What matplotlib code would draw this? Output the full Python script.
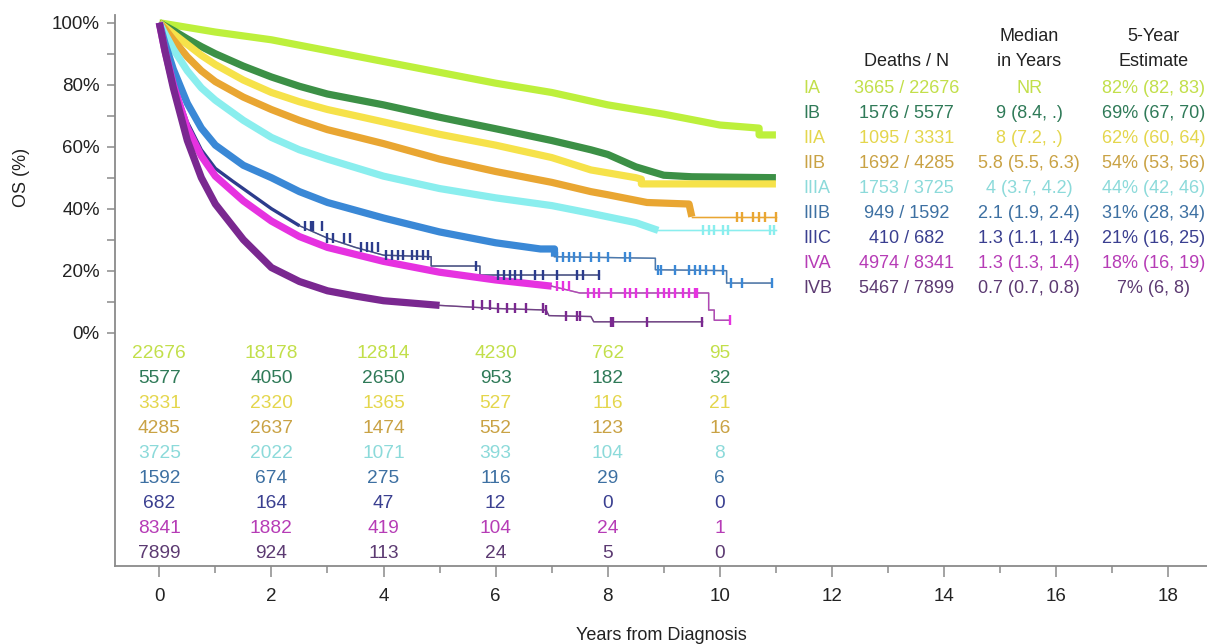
import matplotlib
matplotlib.use("Agg")
import matplotlib.pyplot as plt
import numpy as np

plt.rcParams['font.family'] = ['Liberation Sans', 'DejaVu Sans']

stages = ["IA", "IB", "IIA", "IIB", "IIIA", "IIIB", "IIIC", "IVA", "IVB"]
line_colors = ["#bdf03c", "#3c9046", "#f6e24a", "#e9a632", "#8aeeee",
               "#3a88d6", "#2c3c8c", "#e632e0", "#7a2890"]
text_colors = ["#c2df4a", "#2f7a58", "#e4d64c", "#c9a244", "#8cdada",
               "#3d70a2", "#3a3f90", "#b63cb6", "#5c3a72"]

# survival curves (years, OS %)
t_IA = [0, 0.5, 1, 2, 3, 4, 5, 6, 7, 8, 9, 10, 10.7, 10.7, 11.0]
s_IA = [100, 98.5, 97, 94.5, 91, 87.5, 84, 80.5, 77.5, 73.5, 70.5, 67, 66, 63.8, 63.8]
t_IB = [0, 0.25, 0.5, 0.75, 1, 1.5, 2, 2.5, 3, 4, 5, 6, 7, 7.7, 8, 8.5, 9, 9.5, 11.0]
s_IB = [100, 97.5, 94.8, 92.3, 90, 86, 82.5, 79.5, 77, 73.5, 69.5, 65.8, 62, 59, 57.5, 53.5, 50.8, 50.3, 50]
t_IIA = [0, 0.25, 0.5, 0.75, 1, 1.5, 2, 2.5, 3, 4, 5, 6, 7, 7.7, 8.5, 8.6, 8.6, 11.0]
s_IIA = [100, 96.5, 93, 89.5, 86.5, 81.5, 77.5, 74.5, 72, 68, 64, 60.5, 56.5, 52.5, 50, 49.5, 48, 48]
t_IIB = [0, 0.1, 0.25, 0.5, 0.75, 1, 1.5, 2, 2.5, 3, 4, 5, 6, 7, 7.7, 8, 8.7, 9.45, 9.5, 11.0]
s_IIB = [100, 98, 94.5, 89, 84.5, 81, 76, 72, 68.5, 65.5, 61, 56, 52, 48.5, 45.5, 44.5, 42, 41.5, 37.4, 37.4]
t_IIIA = [0, 0.1, 0.25, 0.5, 0.75, 1, 1.5, 2, 2.5, 3, 4, 5, 6, 7, 7.7, 8.5, 8.9, 11.0]
s_IIIA = [100, 96.5, 91.5, 84.5, 79, 75, 68.5, 63, 59, 56, 50.5, 46.5, 43.5, 41, 38.5, 35.5, 33, 33]
t_IIIB = [0, 0.1, 0.25, 0.5, 0.75, 1, 1.5, 2, 2.5, 3, 4, 5, 6, 6.8, 7.05, 7.05, 8.85, 8.85, 10.12, 10.12, 10.93]
s_IIIB = [100, 93.5, 85, 74, 66, 60.5, 54, 50, 45.5, 42, 37, 32.5, 29, 27, 27, 24.5, 24, 20.3, 20, 16, 16]
t_IIIC = [0, 0.1, 0.25, 0.5, 0.75, 1, 1.3, 2, 2.5, 3, 3.5, 4, 4.85, 4.85, 5.72, 5.72, 7.85]
s_IIIC = [100, 92, 81, 68, 59, 53, 49, 40, 34.5, 30.5, 27.5, 25, 24.5, 21.5, 21.5, 18.6, 18.6]
t_IVA = [0, 0.1, 0.25, 0.5, 0.75, 1, 1.5, 2, 2.5, 3, 4, 5, 6, 7, 7.5, 9.8, 9.8, 9.9, 9.9, 10.18]
s_IVA = [100, 91, 80, 66, 57, 50.5, 42.5, 36, 31, 27.5, 23, 19.5, 17, 15, 12.8, 12.8, 7.3, 7.3, 4, 4]
t_IVB = [0, 0.1, 0.25, 0.5, 0.75, 1, 1.5, 2, 2.5, 3, 3.5, 4, 5, 6, 6.9, 6.95, 7.7, 7.75, 9.69]
s_IVB = [100, 91, 79, 62, 50, 41.5, 30, 21, 16.5, 13.5, 11.8, 10.3, 8.8, 7.8, 7.3, 5.5, 5.2, 3.5, 3.5]

# censor marks on the sparse tails (years)
cens_IIB = [10.3, 10.4, 10.6, 10.7, 10.8, 11.0]
cens_IIIA = [9.7, 9.8, 9.9, 10.05, 10.15, 10.9, 10.97]
cens_IIIB = [7.1, 7.2, 7.3, 7.4, 7.5, 7.7, 7.85, 8.0, 8.3, 8.4, 8.9, 8.95, 9.2,
             9.45, 9.55, 9.65, 9.75, 9.9, 10.05, 10.2, 10.4, 10.93]
cens_IIIC = [2.6, 2.7, 2.75, 2.9, 3.0, 3.1, 3.3, 3.4, 3.6, 3.7, 3.8, 3.9, 4.05,
             4.15, 4.25, 4.35, 4.5, 4.6, 4.7, 4.8, 5.65, 6.05, 6.15, 6.25,
             6.35, 6.45, 6.7, 6.85, 7.1, 7.45, 7.55, 7.85]
cens_IVA = [7.1, 7.2, 7.3, 7.65, 7.75, 7.85, 8.05, 8.3, 8.4, 8.5, 8.7, 8.9, 9.0,
            9.1, 9.2, 9.35, 9.45, 9.55, 9.6, 10.18]
cens_IVB = [5.6, 5.75, 5.9, 6.05, 6.2, 6.35, 6.55, 6.85, 6.9,
            7.25, 7.45, 7.5, 8.05, 8.1, 8.7, 9.68]

curves = {
    "IA": (t_IA, s_IA, 11.0, []),
    "IB": (t_IB, s_IB, 11.0, []),
    "IIA": (t_IIA, s_IIA, 11.0, []),
    "IIB": (t_IIB, s_IIB, 10.2, cens_IIB),
    "IIIA": (t_IIIA, s_IIIA, 9.7, cens_IIIA),
    "IIIB": (t_IIIB, s_IIIB, 7.05, cens_IIIB),
    "IIIC": (t_IIIC, s_IIIC, 2.5, cens_IIIC),
    "IVA": (t_IVA, s_IVA, 7.0, cens_IVA),
    "IVB": (t_IVB, s_IVB, 5.5, cens_IVB),
}

# numbers at risk
risk_times = [0, 2, 4, 6, 8, 10]
at_risk = [
    [22676, 18178, 12814, 4230, 762, 95],
    [5577, 4050, 2650, 953, 182, 32],
    [3331, 2320, 1365, 527, 116, 21],
    [4285, 2637, 1474, 552, 123, 16],
    [3725, 2022, 1071, 393, 104, 8],
    [1592, 674, 275, 116, 29, 6],
    [682, 164, 47, 12, 0, 0],
    [8341, 1882, 419, 104, 24, 1],
    [7899, 924, 113, 24, 5, 0],
]

deaths_n = ["3665 / 22676", "1576 / 5577", "1095 / 3331", "1692 / 4285",
            "1753 / 3725", "949 / 1592", "410 / 682", "4974 / 8341", "5467 / 7899"]
medians = ["NR", "9 (8.4, .)", "8 (7.2, .)", "5.8 (5.5, 6.3)", "4 (3.7, 4.2)",
           "2.1 (1.9, 2.4)", "1.3 (1.1, 1.4)", "1.3 (1.3, 1.4)", "0.7 (0.7, 0.8)"]
five_year = ["82% (82, 83)", "69% (67, 70)", "62% (60, 64)", "54% (53, 56)",
             "44% (42, 46)", "31% (28, 34)", "21% (16, 25)", "18% (16, 19)", "7% (6, 8)"]

fig = plt.figure(figsize=(12.07, 6.44), dpi=100)
ax = fig.add_axes([115 / 1207, 1 - 566 / 644, (1207 - 115) / 1207, (566 - 15) / 644])
ax.set_xlim(-0.79, 18.69)
ax.set_ylim(-75.3, 102.5)

draw_order = ["IIIC", "IA", "IB", "IIA", "IIB", "IIIA", "IIIB", "IVA", "IVB"]
for name in draw_order:
    i = stages.index(name)
    t, s, thick_end, cens = curves[name]
    t = np.array(t, dtype=float)
    s = np.array(s, dtype=float)
    col = line_colors[i]
    lw_thick = 2.4 if name == "IIIC" else 5.2
    mask = t <= thick_end
    ax.plot(t[mask], s[mask], color=col, lw=lw_thick, solid_capstyle="butt",
            solid_joinstyle="round", zorder=3 + i * 0.1)
    if thick_end < t[-1]:
        k = np.searchsorted(t, thick_end, side="right") - 1
        tt = t[k:]
        ss = s[k:]
        ax.plot(tt, ss, color="#666677" if name in ("IIIB", "IIIC", "IVA", "IVB") else col,
                lw=1.0, zorder=3 + i * 0.1)
        ax.plot(tt, ss, color=col, lw=1.0, alpha=0.6, zorder=3 + i * 0.1)
    if cens:
        c = np.array(cens)
        idx = np.searchsorted(t, c, side="right") - 1
        ax.plot(c, s[idx], ls="none", marker="|", ms=7, mew=1.7, color=col,
                zorder=3.5 + i * 0.1)

for i in range(len(stages)):
    yrow = -6.6 - 8.1 * i
    for j, tm in enumerate(risk_times):
        ax.text(tm, yrow, str(at_risk[i][j]), color=text_colors[i], fontsize=13.8,
                ha="center", va="center")

# summary table on the right
head_y1, head_y2 = 95.5, 87.4
ax.text(13.33, head_y2, "Deaths / N", ha="center", va="center", fontsize=13, color="#222222")
ax.text(15.52, head_y1, "Median", ha="center", va="center", fontsize=13, color="#222222")
ax.text(15.52, head_y2, "in Years", ha="center", va="center", fontsize=13, color="#222222")
ax.text(17.74, head_y1, "5-Year", ha="center", va="center", fontsize=13, color="#222222")
ax.text(17.74, head_y2, "Estimate", ha="center", va="center", fontsize=13, color="#222222")
for i, name in enumerate(stages):
    yrow = 78.8 - 8.06 * i
    ax.text(11.49, yrow, name, ha="left", va="center", fontsize=13, color=text_colors[i])
    ax.text(13.33, yrow, deaths_n[i], ha="center", va="center", fontsize=13, color=text_colors[i])
    ax.text(15.52, yrow, medians[i], ha="center", va="center", fontsize=13, color=text_colors[i])
    ax.text(17.74, yrow, five_year[i], ha="center", va="center", fontsize=13, color=text_colors[i])

# axes styling
for side in ("top", "right"):
    ax.spines[side].set_visible(False)
for side in ("left", "bottom"):
    ax.spines[side].set_color("#8a8a8a")
    ax.spines[side].set_linewidth(1.3)

ax.set_yticks(np.arange(0, 101, 20))
ax.set_yticks(np.arange(10, 100, 20), minor=True)
ax.set_yticklabels([f"{v}%" for v in range(0, 101, 20)])
ax.set_xticks(np.arange(0, 19, 2))
ax.set_xticks(np.arange(1, 19, 2), minor=True)
ax.tick_params(axis="y", which="both", length=6, width=1.1, color="#8a8a8a",
               labelsize=13.5, pad=5, labelcolor="#222222")
ax.tick_params(axis="x", which="major", length=8, width=1.1, color="#8a8a8a",
               labelsize=13.5, pad=8, labelcolor="#222222")
ax.tick_params(axis="x", which="minor", length=5, width=1.1, color="#8a8a8a")

ax.set_xlabel("Years from Diagnosis", fontsize=13, labelpad=16, color="#222222")
ax.text(-2.45, 50, "OS (%)", rotation=90, ha="center", va="center", fontsize=13,
        color="#222222")

fig.savefig("out.png", dpi=100)
